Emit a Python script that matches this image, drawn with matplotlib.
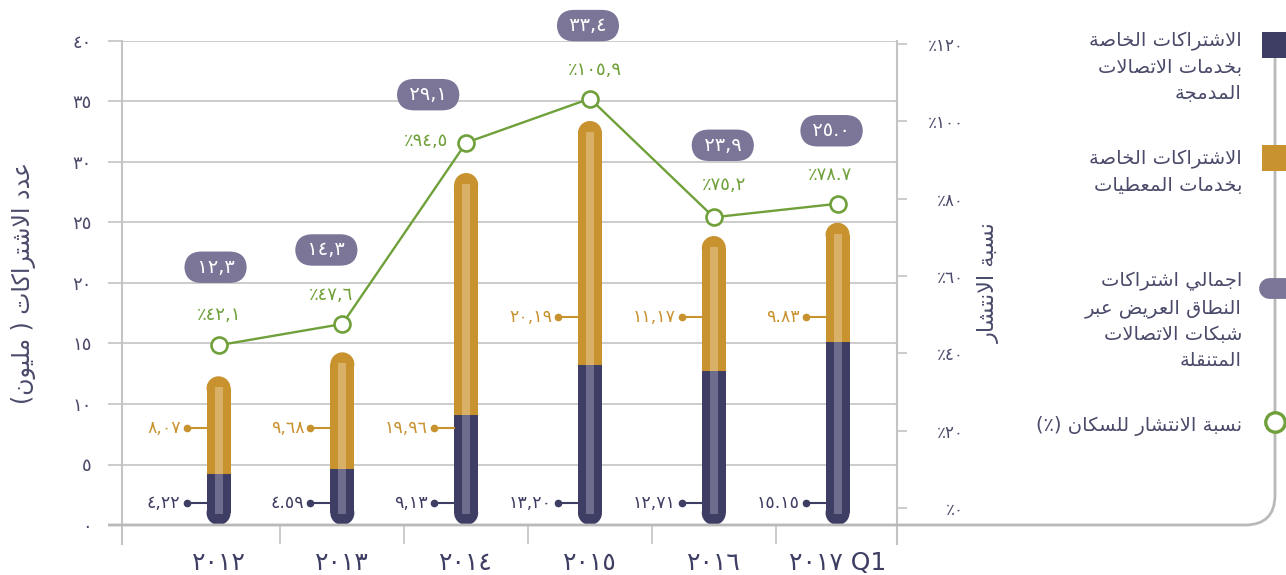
import matplotlib
matplotlib.use("Agg")
import matplotlib.pyplot as plt
import numpy as np
from matplotlib.lines import Line2D
from matplotlib.patches import PathPatch, Ellipse
from matplotlib.path import Path

# ---------------------------------------------------------------------------
# Data
# ---------------------------------------------------------------------------
years = ["٢٠١٢", "٢٠١٣", "٢٠١٤", "٢٠١٥", "٢٠١٦", "٢٠١٧ Q1"]
navy = [4.22, 4.59, 9.13, 13.20, 12.71, 15.15]     # mobile broadband subs (M)
gold = [8.07, 9.68, 19.96, 20.19, 11.17, 9.83]     # data-only subs (M)
pct = [42.1, 47.6, 94.5, 105.9, 75.2, 78.7]        # penetration (%)

navy_labels = ["٤,٢٢", "٤.٥٩", "٩,١٣", "١٣,٢٠", "١٢,٧١", "١٥.١٥"]
gold_labels = ["٨,٠٧", "٩,٦٨", "١٩,٩٦", "٢٠,١٩", "١١,١٧", "٩.٨٣"]
total_labels = ["١٢,٣", "١٤,٣", "٢٩,١", "٣٣,٤", "٢٣,٩", "٢٥.٠"]
pct_labels = ["٪٤٢,١", "٪٤٧,٦", "٪٩٤,٥", "٪١٠٥,٩", "٪٧٥,٢", "٪٧٨.٧"]

left_ticks = [0, 5, 10, 15, 20, 25, 30, 35, 40]
right_ticks = [0, 20, 40, 60, 80, 100, 120]

# label placement (pixel offsets), kept apart from the data
pill_dx = [-3, -16, -38, -2, 9, -6]
pill_dy = [78, 74, 48, 73, 72, 73]
pct_dx = [1, -11, -40, 5, 10, -8]
pct_dy = [30, 29, 2, 29, 32, 29]
navy_lab_y = [1.8] * 6
gold_lab_y = [8.0, 8.0, 8.0, 17.2, 17.2, 17.2]

NAVY = "#3e3d63"
NAVY_LT = "#6d6c8c"
GOLD = "#c8922e"
GOLD_LT = "#d9b068"
PILL = "#7b7598"
GREEN = "#6fa03a"
TEXT = "#4a4a6a"
GRID = "#c4c4c4"

# ---------------------------------------------------------------------------
# Minimal Arabic shaping (matplotlib does no joining / bidi on its own)
# ---------------------------------------------------------------------------
FORMS = {
    "ا": ("\uFE8D", "\uFE8E", None, None),
    "ب": ("\uFE8F", "\uFE90", "\uFE91", "\uFE92"),
    "ة": ("\uFE93", "\uFE94", None, None),
    "ت": ("\uFE95", "\uFE96", "\uFE97", "\uFE98"),
    "ج": ("\uFE9D", "\uFE9E", "\uFE9F", "\uFEA0"),
    "خ": ("\uFEA5", "\uFEA6", "\uFEA7", "\uFEA8"),
    "د": ("\uFEA9", "\uFEAA", None, None),
    "ر": ("\uFEAD", "\uFEAE", None, None),
    "س": ("\uFEB1", "\uFEB2", "\uFEB3", "\uFEB4"),
    "ش": ("\uFEB5", "\uFEB6", "\uFEB7", "\uFEB8"),
    "ص": ("\uFEB9", "\uFEBA", "\uFEBB", "\uFEBC"),
    "ض": ("\uFEBD", "\uFEBE", "\uFEBF", "\uFEC0"),
    "ط": ("\uFEC1", "\uFEC2", "\uFEC3", "\uFEC4"),
    "ع": ("\uFEC9", "\uFECA", "\uFECB", "\uFECC"),
    "ق": ("\uFED5", "\uFED6", "\uFED7", "\uFED8"),
    "ك": ("\uFED9", "\uFEDA", "\uFEDB", "\uFEDC"),
    "ل": ("\uFEDD", "\uFEDE", "\uFEDF", "\uFEE0"),
    "م": ("\uFEE1", "\uFEE2", "\uFEE3", "\uFEE4"),
    "ن": ("\uFEE5", "\uFEE6", "\uFEE7", "\uFEE8"),
    "و": ("\uFEED", "\uFEEE", None, None),
    "ي": ("\uFEF1", "\uFEF2", "\uFEF3", "\uFEF4"),
}
MIRROR = {"(": ")", ")": "("}


def ar(text):
    out = []
    prev_joins = False
    i = 0
    while i < len(text):
        c = text[i]
        if c not in FORMS:
            out.append(c)
            prev_joins = False
            i += 1
            continue
        if c == "ل" and i + 1 < len(text) and text[i + 1] == "ا":
            out.append("\uFEFC" if prev_joins else "\uFEFB")
            prev_joins = False
            i += 2
            continue
        iso, fin, ini, med = FORMS[c]
        nxt = text[i + 1] if i + 1 < len(text) else None
        to_next = ini is not None and nxt in FORMS
        if prev_joins and to_next:
            g = med
        elif prev_joins:
            g = fin
        elif to_next:
            g = ini
        else:
            g = iso
        out.append(g)
        prev_joins = ini is not None
        i += 1
    return "".join(MIRROR.get(c, c) for c in reversed(out))


def ar_lines(lines):
    return "\n".join(ar(s) for s in lines)


to_ar = str.maketrans("0123456789", "٠١٢٣٤٥٦٧٨٩")

plt.rcParams["font.family"] = ["DejaVu Sans"]

# ---------------------------------------------------------------------------
# Figure
# ---------------------------------------------------------------------------
W, H = 1286, 575
fig = plt.figure(figsize=(W / 100, H / 100), dpi=100)
ax = fig.add_axes([122 / W, 1 - 525 / H, (897 - 122) / W, (525 - 41) / H])
ax2 = ax.twinx()

x = np.arange(len(years))
px = (5.48 + 0.78) / (897 - 122)       # data units per pixel along x
py = 40 / (525 - 41)                    # data units per pixel along y
bw = 24 * px
r = 12 * py

ax.set_xlim(-0.78, 5.48)
ax.set_ylim(0, 40)
ax2.set_ylim(-4.4, 120.8)

for s in list(ax.spines.values()) + list(ax2.spines.values()):
    s.set_visible(False)

ax.set_axisbelow(True)
ax.yaxis.grid(True, color=GRID, lw=1.2)
ax.set_yticks(left_ticks)
ax.set_yticklabels([str(t).translate(to_ar) for t in left_ticks])
ax.tick_params(axis="y", length=10, width=1.2, color=GRID, pad=12,
               labelsize=13, labelcolor=TEXT)

ax.set_xticks(x)
ax.set_xticklabels(years)
ax.set_xticks(np.arange(0.5, 5, 1), minor=True)
ax.tick_params(axis="x", which="major", length=0, pad=19, labelsize=18,
               labelcolor=NAVY)
ax.tick_params(axis="x", which="minor", length=14, width=1.2, color=GRID)

ax2.set_yticks(right_ticks)
ax2.set_yticklabels(["٪" + str(t).translate(to_ar) for t in right_ticks])
ax2.tick_params(axis="y", length=7, width=1.2, color=GRID, pad=41,
                labelsize=12, labelcolor=TEXT)
for t in ax2.get_yticklabels():
    t.set_ha("right")

# vertical frame lines that run below the baseline
for xa in (0, 1):
    ax.plot([xa, xa], [-0.04, 1.0], transform=ax.transAxes, color=GRID,
            lw=1.5, clip_on=False)

ax.set_ylabel(ar("عدد الاشتراكات ( مليون)"), fontsize=17, color=TEXT,
              labelpad=26)
ax2.set_ylabel(ar("نسبة الانتشار"), fontsize=16, color=TEXT, rotation=90,
               labelpad=10)

# ---------------------------------------------------------------------------
# Stacked rounded bars
# ---------------------------------------------------------------------------
tops = np.array(navy) + np.array(gold)
ax.bar(x, np.array(navy) - r, bottom=r, width=bw, color=NAVY, zorder=3,
       lw=0)
ax.bar(x, tops - r - np.array(navy), bottom=navy, width=bw, color=GOLD,
       zorder=3, lw=0)
for i in range(len(x)):
    ax.add_patch(Ellipse((x[i], r), bw, 2 * r, color=NAVY, lw=0, zorder=3))
    ax.add_patch(Ellipse((x[i], tops[i] - r), bw, 2 * r, color=GOLD, lw=0,
                         zorder=3))
sw = 8 * px
ax.bar(x, np.array(navy) - 0.9, bottom=0.9, width=sw, color=NAVY_LT, zorder=4,
       lw=0)
ax.bar(x, tops - 0.9 - np.array(navy), bottom=navy, width=sw, color=GOLD_LT,
       zorder=4, lw=0)

# value call-outs on the left of each bar
for i in range(len(x)):
    x0 = x[i] - bw / 2
    xd = x0 - 20 * px
    for yv, lab, col in ((navy_lab_y[i], navy_labels[i], NAVY),
                         (gold_lab_y[i], gold_labels[i], GOLD)):
        ax.plot([xd, x0], [yv, yv], color=col, lw=1.5, zorder=5)
        ax.plot([xd], [yv], "o", ms=4.5, color=col, zorder=5)
        ax.text(xd - 6 * px, yv, lab, ha="right", va="center", fontsize=12.5,
                color=col, zorder=5)

# ---------------------------------------------------------------------------
# Penetration line
# ---------------------------------------------------------------------------
ax2.plot(x, pct, color=GREEN, lw=1.7, marker="o", ms=11.5, mfc="white",
         mec=GREEN, mew=1.9, zorder=6)
for i in range(len(x)):
    ax2.annotate(pct_labels[i], (x[i], pct[i]),
                 xytext=(pct_dx[i] * 0.72, pct_dy[i] * 0.72),
                 textcoords="offset points", ha="center", va="center",
                 fontsize=13, color=GREEN)
    ax2.annotate(" " + total_labels[i] + " ", (x[i], pct[i]),
                 xytext=(pill_dx[i] * 0.72, pill_dy[i] * 0.72),
                 textcoords="offset points", ha="center", va="center",
                 fontsize=14, color="white",
                 bbox=dict(boxstyle="round,pad=0.32,rounding_size=0.9",
                           fc=PILL, ec="none"))

# ---------------------------------------------------------------------------
# Legend rail on the right
# ---------------------------------------------------------------------------
def fx(p):
    return p / W


def fy(p):
    return 1 - p / H


rail = Path([(fx(108), fy(525)), (fx(1245), fy(525)),
             (fx(1275), fy(525)), (fx(1275), fy(495)), (fx(1275), fy(35))],
            [Path.MOVETO, Path.LINETO, Path.CURVE3, Path.CURVE3, Path.LINETO])
fig.add_artist(PathPatch(rail, fill=False, ec="#b9b9b9", lw=2.0,
                         transform=fig.transFigure))

fig.add_artist(Line2D([fx(1275)], [fy(45)], marker="s", ms=19, color=NAVY,
                      mew=0, transform=fig.transFigure))
fig.add_artist(Line2D([fx(1275)], [fy(158)], marker="s", ms=19, color=GOLD,
                      mew=0, transform=fig.transFigure))
fig.add_artist(Line2D([fx(1269), fx(1300)], [fy(288), fy(288)], lw=15,
                      color=PILL, solid_capstyle="round",
                      transform=fig.transFigure))
fig.add_artist(Line2D([fx(1275)], [fy(422)], marker="o", ms=14, mfc="white",
                      mec=GREEN, mew=2.4, transform=fig.transFigure))

legend_text = [
    (fy(40), ["الاشتراكات الخاصة", "بخدمات الاتصالات", "المدمجة"]),
    (fy(158), ["الاشتراكات الخاصة", "بخدمات المعطيات"]),
    (fy(280), ["اجمالي اشتراكات", "النطاق العريض عبر", "شبكات الاتصالات",
               "المتنقلة"]),
    (fy(424), ["نسبة الانتشار للسكان (٪)"]),
]
for yy, lines in legend_text:
    fig.text(fx(1242), yy + 0.014, ar_lines(lines), ha="right", va="top",
             fontsize=14, color=TEXT, linespacing=1.48)

fig.savefig("out.png", dpi=100)
